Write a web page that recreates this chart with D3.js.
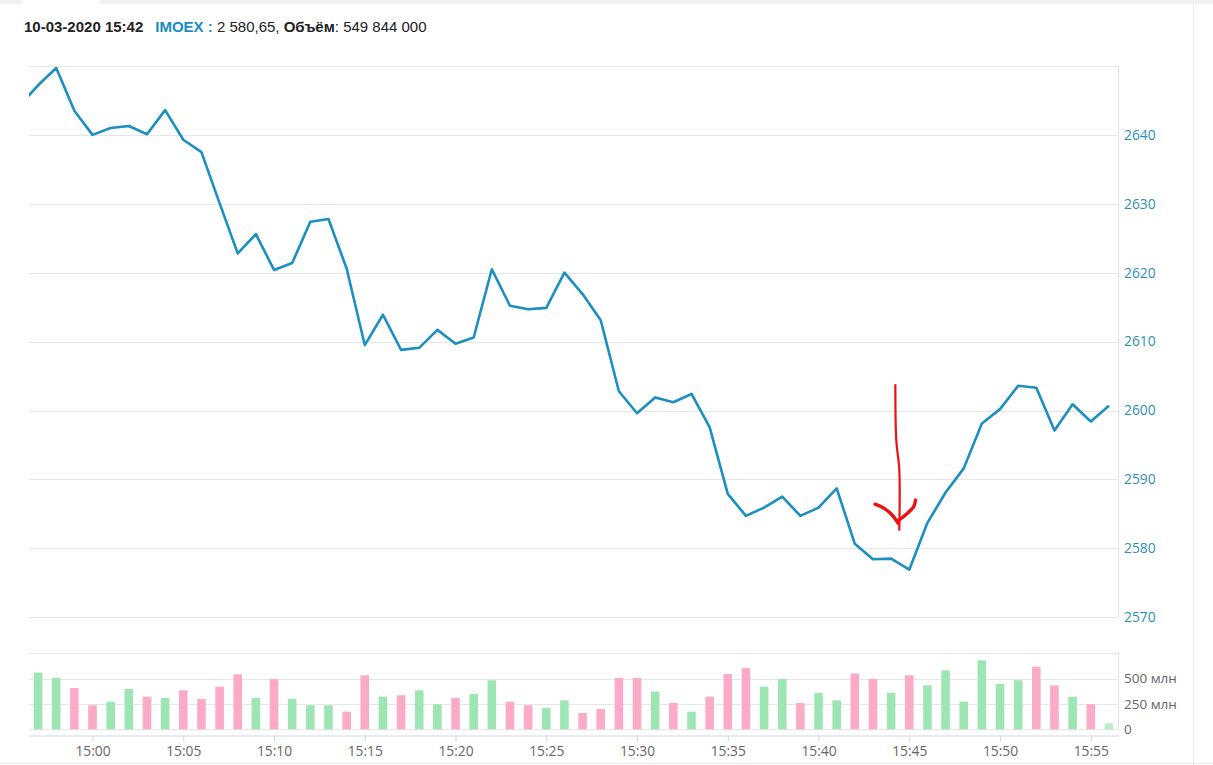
<!DOCTYPE html>
<html>
<head>
<meta charset="utf-8">
<script src="https://cdn.jsdelivr.net/npm/d3@7"></script>
<style>
  html, body { margin: 0; padding: 0; background: #fff; }
  svg { display: block; }
</style>
</head>
<body>
<svg id="chart" width="1213" height="765"></svg>
<script>
// ---------- data ----------
const times = ["14:56","14:57","14:58","14:59","15:00","15:01","15:02","15:03","15:04","15:05",
  "15:06","15:07","15:08","15:09","15:10","15:11","15:12","15:13","15:14","15:15",
  "15:16","15:17","15:18","15:19","15:20","15:21","15:22","15:23","15:24","15:25",
  "15:26","15:27","15:28","15:29","15:30","15:31","15:32","15:33","15:34","15:35",
  "15:36","15:37","15:38","15:39","15:40","15:41","15:42","15:43","15:44","15:45",
  "15:46","15:47","15:48","15:49","15:50","15:51","15:52","15:53","15:54","15:55","15:56"];

const prices = [2644.3,2647.2,2649.7,2643.5,2640.0,2641.0,2641.3,2640.1,2643.6,2639.3,
  2637.5,2630.1,2622.8,2625.6,2620.4,2621.4,2627.4,2627.8,2620.6,2609.5,
  2613.9,2608.8,2609.1,2611.7,2609.7,2610.6,2620.5,2615.2,2614.7,2614.9,
  2620.0,2616.9,2613.1,2602.8,2599.6,2601.9,2601.2,2602.4,2597.6,2587.9,
  2584.7,2585.9,2587.5,2584.7,2585.9,2588.7,2580.65,2578.4,2578.5,2576.9,
  2583.7,2588.1,2591.6,2598.1,2600.2,2603.6,2603.3,2597.1,2600.9,2598.4,2600.7];

// volume in millions, one bar per minute from 14:57 to 15:56
const volumes = [559,507,408,237,273,398,322,309,385,299,
  421,543,309,497,299,237,237,174,533,322,
  336,385,247,309,349,484,273,237,211,286,
  161,201,507,507,372,260,174,322,546,605,
  421,497,260,359,286,550,497,359,533,434,
  582,273,681,447,484,618,434,322,247,59];

const priceTicks = [2570,2580,2590,2600,2610,2620,2630,2640,2650];
const priceLabels = ["2570","2580","2590","2600","2610","2620","2630","2640"];
const volumeTicks = [0,250,500,750];
const volumeLabels = ["0","250 млн","500 млн"];
const timeTicks = ["15:00","15:05","15:10","15:15","15:20","15:25","15:30","15:35","15:40","15:45","15:50","15:55"];

// hand-drawn red arrow annotation (time, value)
const arrowShaft = [["15:44:14",2603.7],["15:44:17",2595.7],["15:44:27",2591.4],["15:44:27",2582.7]];
const arrowLeft  = [["15:43:07",2586.4],["15:43:37",2585.8],["15:44:04",2584.8],["15:44:24",2583.6]];
const arrowRight = [["15:45:21",2587.0],["15:45:14",2586.0],["15:44:54",2585.1],["15:44:26",2584.1]];

const header = { time: "10-03-2020 15:42", ticker: "IMOEX", value: "2 580,65", volLabel: "Объём", vol: "549 844 000" };

// ---------- helpers ----------
const parseT = s => {
  const p = s.split(":").map(Number);
  return new Date(2020, 2, 10, p[0], p[1], p[2] || 0);
};

const svg = d3.select("#chart");
const W = 1213, H = 765;
const left = 29, right = 1118;
const priceTop = 66, priceBottom = 617.2;
const volTop = 653.3, volBottom = 729.3;
const axisY = 735;

const x = d3.scaleTime()
  .domain([parseT("14:56:30"), parseT("15:56:30")])
  .range([left, right]);
const y = d3.scaleLinear().domain([2570, 2650]).range([priceBottom, priceTop]);
const yv = d3.scaleLinear().domain([0, 750]).range([volBottom, volTop]);

const gridColor = "#e6e6e6";
const lineColor = "#1a8fc0";
const upColor = "#9de6b4";
const downColor = "#fbabc7";
const labelFont = "'Open Sans', 'DejaVu Sans', sans-serif";

// page chrome
svg.append("rect").attr("x", 0).attr("y", 0).attr("width", 22).attr("height", 4).attr("fill", "#f1f1f1");
svg.append("rect").attr("x", 100).attr("y", 0).attr("width", W - 100).attr("height", 4).attr("fill", "#f1f1f1");
svg.append("line").attr("x1", 1193.5).attr("x2", 1193.5).attr("y1", 0).attr("y2", H).attr("stroke", "#ececec").attr("stroke-width", 1);
svg.append("line").attr("x1", 0).attr("x2", W).attr("y1", 763.5).attr("y2", 763.5).attr("stroke", "#e6e6e6").attr("stroke-width", 1);

// header
const ht = svg.append("text").attr("x", 24).attr("y", 32)
  .style("font-family", "'Liberation Sans', Arial, sans-serif").style("font-size", "15px").attr("fill", "#222");
ht.append("tspan").attr("font-weight", "bold").text(header.time);
ht.append("tspan").attr("dx", 12).attr("font-weight", "bold").attr("fill", "#1a8cc2").text(header.ticker + " :");
ht.append("tspan").text(" " + header.value + ", ");
ht.append("tspan").attr("font-weight", "bold").text(header.volLabel);
ht.append("tspan").text(": " + header.vol);

// price grid
svg.append("g").selectAll("line").data(priceTicks).join("line")
  .attr("x1", left).attr("x2", right)
  .attr("y1", d => Math.round(y(d)) + 0.5).attr("y2", d => Math.round(y(d)) + 0.5)
  .attr("stroke", gridColor).attr("stroke-width", 1);
svg.append("line").attr("x1", right + 0.5).attr("x2", right + 0.5).attr("y1", y(2650)).attr("y2", y(2570))
  .attr("stroke", "#dde3ee").attr("stroke-width", 1);

// price labels
svg.append("g").selectAll("text").data(priceLabels).join("text")
  .attr("x", right + 6).attr("y", d => y(+d)).attr("dy", "0.35em")
  .style("font-family", labelFont).style("font-size", "13.8px").attr("fill", "#2f8db7")
  .text(d => d);

// volume grid
svg.append("g").selectAll("line").data(volumeTicks).join("line")
  .attr("x1", left).attr("x2", right)
  .attr("y1", d => Math.round(yv(d)) + 0.5).attr("y2", d => Math.round(yv(d)) + 0.5)
  .attr("stroke", gridColor).attr("stroke-width", 1);
svg.append("line").attr("x1", right + 0.5).attr("x2", right + 0.5).attr("y1", yv(750)).attr("y2", yv(0))
  .attr("stroke", "#dde3ee").attr("stroke-width", 1);

svg.append("g").selectAll("text").data(volumeLabels).join("text")
  .attr("x", right + 6).attr("y", (d, i) => yv(volumeTicks[i])).attr("dy", "0.35em")
  .style("font-family", labelFont).style("font-size", "13.5px").attr("fill", "#666")
  .text(d => d);

// volume bars
const barW = 8.6;
const barData = volumes.map((v, i) => ({
  t: parseT(times[i + 1]), v,
  up: prices[i + 1] >= prices[i],
  last: i === volumes.length - 1
}));
svg.append("g").selectAll("rect").data(barData).join("rect")
  .attr("x", d => x(d.t) - barW / 2)
  .attr("y", d => yv(d.v))
  .attr("width", barW)
  .attr("height", d => yv(0) - yv(d.v))
  .attr("fill", d => d.up ? upColor : downColor)
  .attr("opacity", d => d.last ? 0.7 : 1);

// x axis
const xAxis = d3.axisBottom(x)
  .tickValues(timeTicks.map(parseT))
  .tickFormat(d3.timeFormat("%H:%M"))
  .tickSize(6).tickSizeOuter(0).tickPadding(5);
const gx = svg.append("g").attr("transform", `translate(0,${axisY + 0.5})`).call(xAxis);
gx.select(".domain").attr("stroke", "#ccd6eb");
gx.selectAll(".tick line").attr("stroke", "#ccd6eb");
gx.selectAll(".tick text").style("font-family", labelFont).style("font-size", "13.8px").attr("fill", "#666");

// price line
svg.append("defs").append("clipPath").attr("id", "clip")
  .append("rect").attr("x", left).attr("y", priceTop - 5).attr("width", right - left).attr("height", priceBottom - priceTop + 10);
const line = d3.line().x(d => x(d.t)).y(d => y(d.v));
const lineData = prices.map((v, i) => ({ t: parseT(times[i]), v }));
svg.append("path").datum(lineData)
  .attr("clip-path", "url(#clip)")
  .attr("d", line)
  .attr("fill", "none").attr("stroke", lineColor).attr("stroke-width", 2.6)
  .attr("stroke-linejoin", "round");

// red annotation arrow
const aLine = d3.line().x(d => x(parseT(d[0]))).y(d => y(d[1])).curve(d3.curveCatmullRom);
[arrowShaft, arrowLeft, arrowRight].forEach((pts, i) => {
  svg.append("path").attr("d", aLine(pts))
    .attr("fill", "none").attr("stroke", "#ee1111")
    .attr("stroke-width", i === 0 ? 2.2 : 3.4).attr("stroke-linecap", "round");
});
</script>
</body>
</html>
